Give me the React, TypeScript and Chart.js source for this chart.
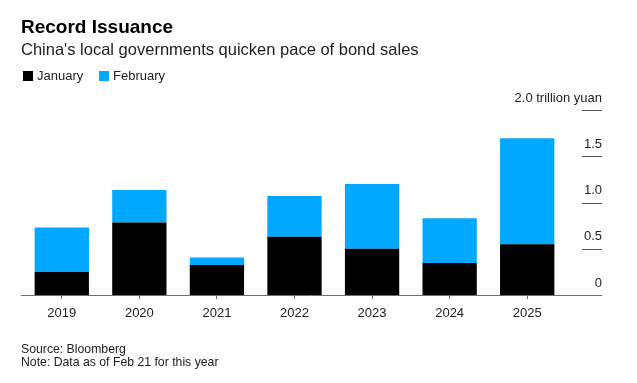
import React, { useEffect, useRef } from "react";
import { Chart, registerables } from "chart.js";

Chart.register(...registerables);

const years = ["2019", "2020", "2021", "2022", "2023", "2024", "2025"];
const january = [0.25, 0.785, 0.325, 0.63, 0.5, 0.345, 0.55];
const february = [0.48, 0.35, 0.08, 0.44, 0.7, 0.485, 1.145];
const yTicks = [0, 0.5, 1.0, 1.5, 2.0];
const yUnit = "trillion yuan";
const titleText = "Record Issuance";
const subtitleText = "China's local governments quicken pace of bond sales";
const legendLabels = ["January", "February"];
const footerLines = ["Source: Bloomberg", "Note: Data as of Feb 21 for this year"];

const BLUE = "#00A8FF";
const BLACK = "#000000";
const FONT = "'Liberation Sans', Arial, sans-serif";

const axisPlugin = {
  id: "bbgAxis",
  afterDraw(chart: any) {
    const ctx = chart.ctx;
    const ys = chart.scales.y;
    const area = chart.chartArea;
    ctx.save();
    ctx.lineWidth = 1;
    // baseline
    const base = Math.round(ys.getPixelForValue(0)) + 0.5;
    ctx.strokeStyle = "#6e6e6e";
    ctx.beginPath();
    ctx.moveTo(area.left - 2, base);
    ctx.lineTo(ys.right, base);
    ctx.stroke();
    // right-side tick marks
    ctx.strokeStyle = "#555555";
    yTicks.forEach((v) => {
      if (v === 0) return;
      const p = Math.round(ys.getPixelForValue(v)) + 0.5;
      ctx.beginPath();
      ctx.moveTo(ys.right - 20, p);
      ctx.lineTo(ys.right, p);
      ctx.stroke();
    });
    ctx.restore();
  },
};

export default function App() {
  const ref = useRef<HTMLCanvasElement | null>(null);

  useEffect(() => {
    if (!ref.current) return;
    const chart = new Chart(ref.current, {
      type: "bar",
      data: {
        labels: years,
        datasets: [
          {
            label: legendLabels[0],
            data: january,
            backgroundColor: BLACK,
            borderWidth: 0,
            categoryPercentage: 1,
            barPercentage: 0.7,
          },
          {
            label: legendLabels[1],
            data: february,
            backgroundColor: BLUE,
            borderWidth: 0,
            categoryPercentage: 1,
            barPercentage: 0.7,
          },
        ],
      },
      options: {
        responsive: false,
        animation: false,
        layout: { padding: { left: 23, right: 35, top: 110, bottom: 58 } },
        plugins: {
          legend: { display: false },
          title: { display: false },
          tooltip: { enabled: false },
        },
        scales: {
          x: {
            stacked: true,
            border: { display: false },
            grid: {
              display: true,
              offset: false,
              drawOnChartArea: false,
              drawTicks: true,
              tickLength: 4,
              tickColor: "#666666",
            },
            ticks: {
              padding: 7,
              color: "#222222",
              font: { family: FONT, size: 13 },
              maxRotation: 0,
            },
            afterFit(scale: any) {
              scale.height = 30;
            },
          },
          y: {
            stacked: true,
            position: "right",
            min: 0,
            max: 2,
            border: { display: false },
            grid: { display: false, drawTicks: false },
            afterBuildTicks(scale: any) {
              scale.ticks = yTicks.map((v) => ({ value: v }));
            },
            ticks: {
              mirror: true,
              crossAlign: "near",
              padding: 36,
              labelOffset: -12,
              color: "#222222",
              font: { family: FONT, size: 13 },
              callback(value: any) {
                const v = Number(value);
                if (v === 0) return "0";
                if (v === 2) return v.toFixed(1) + " " + yUnit;
                return v.toFixed(1);
              },
            },
            afterFit(scale: any) {
              scale.width = 36;
            },
          },
        },
      },
      plugins: [axisPlugin],
    });
    return () => chart.destroy();
  }, []);

  const abs = (s: React.CSSProperties): React.CSSProperties => ({
    position: "absolute",
    whiteSpace: "nowrap",
    fontFamily: FONT,
    ...s,
  });

  return (
    <div
      style={{
        position: "fixed",
        left: 0,
        top: 0,
        width: 637,
        height: 383,
        background: "#ffffff",
        overflow: "hidden",
      }}
    >
      <canvas
        ref={ref}
        width={637}
        height={383}
        style={{ position: "absolute", left: 0, top: 0, width: 637, height: 383 }}
      />
      <div style={abs({ left: 21, top: 16.5, fontSize: 19, lineHeight: "19px", fontWeight: 700, color: "#000" })}>
        {titleText}
      </div>
      <div style={abs({ left: 21, top: 41, fontSize: 16.5, lineHeight: "16.5px", color: "#222" })}>
        {subtitleText}
      </div>
      <div style={abs({ left: 23, top: 71, width: 10, height: 10, background: BLACK })} />
      <div style={abs({ left: 37, top: 69, fontSize: 13, lineHeight: "13px", color: "#222" })}>
        {legendLabels[0]}
      </div>
      <div style={abs({ left: 99, top: 71, width: 10, height: 10, background: BLUE })} />
      <div style={abs({ left: 113, top: 69, fontSize: 13, lineHeight: "13px", color: "#222" })}>
        {legendLabels[1]}
      </div>
      <div style={abs({ left: 21, top: 342.5, fontSize: 12.25, lineHeight: "13.5px", color: "#222" })}>
        {footerLines[0]}
        <br />
        {footerLines[1]}
      </div>
    </div>
  );
}
